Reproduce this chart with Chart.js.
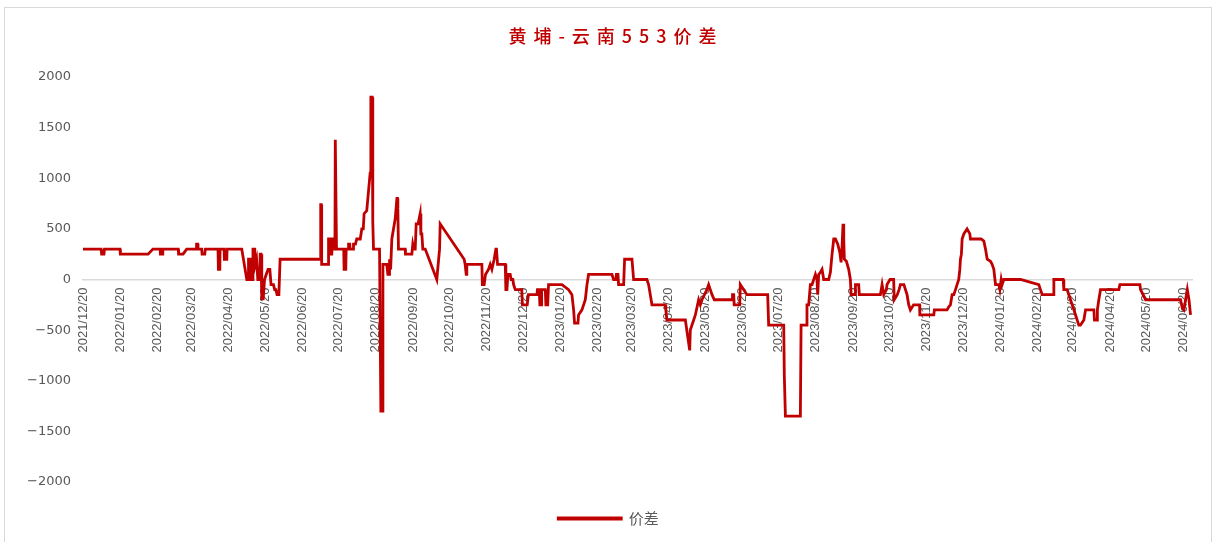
<!DOCTYPE html>
<html>
<head>
<meta charset="utf-8">
<script src="https://cdn.jsdelivr.net/npm/chart.js@4.4.1/dist/chart.umd.min.js"></script>
<style>
  html, body { margin: 0; padding: 0; background: #fff; }
  #frame { position: absolute; left: 4px; top: 7px; width: 1206px; height: 560px; border: 1px solid #d9d9d9; }
  #wrap { position: absolute; left: 0; top: 0; width: 1216px; height: 542px; }
</style>
</head>
<body>
<div id="frame"></div>
<div id="wrap"><canvas id="c"></canvas></div>
<script>
// 黄埔-云南553价差, daily spread
const chartTitle = '黄埔-云南553价差';
const seriesName = '价差';
const startDate = '2021/12/20';   // day 0 of dayOffsets

// days after startDate
const dayOffsets = [
  0, 15, 15.5, 17.4, 17.8, 30.7, 31, 54, 58, 64,
  64.2, 66, 66.2, 79, 79.3, 83, 86, 94, 94.2, 95.2,
  95.4, 98.5, 98.8, 101, 101.5, 112, 112.3, 113.5, 113.7, 117,
  117.3, 119.3, 119.5, 131.7, 135.9, 137, 137.3, 139, 139.5, 140.7,
  141, 142.5, 143, 144, 145, 146.5, 147, 147.7, 148.3, 149.5,
  150.6, 152, 153.5, 155, 156, 158, 159, 160, 161, 162.5,
  163.5, 196.7, 197.2, 197.6, 198, 203.4, 203.7, 205, 205.3, 206.4,
  206.7, 207.8, 208.1, 209, 209.3, 209.8, 210.3, 216.3, 216.6, 218,
  218.3, 220, 220.3, 221.3, 221.6, 224, 224.4, 226, 227.1, 230,
  231.3, 232.5, 233.2, 235.4, 238.2, 238.8, 239.9, 240.4, 241, 246,
  247.1, 248.5, 248.8, 252, 252.9, 254, 254.3, 255.2, 256.2, 259,
  260.4, 260.9, 261.2, 261.7, 267.3, 267.5, 272.8, 273.6, 274.5, 275.6,
  276.4, 278, 279.7, 280.3, 281.1, 281.9, 283.9, 293.5, 295.8, 296.3,
  316.2, 317, 317.9, 318.4, 330.9, 331.3, 332.8, 333.9, 336.4, 337.8,
  339.2, 341.1, 342.5, 343, 343.9, 350.3, 350.8, 351.7, 352.5, 354.4,
  355.2, 356.6, 357.2, 358.6, 364, 364.5, 368.5, 369.5, 376.6, 377,
  378.5, 379, 380, 380.5, 383.5, 384, 385.5, 386.2, 397.3, 402.8,
  405.6, 407, 407.8, 410.6, 411.1, 413.9, 416.7, 418.1, 419.4, 438.8,
  440.2, 442.1, 442.5, 443.8, 444.3, 448.5, 449.3, 455.4, 456.8, 467.8,
  469.2, 472, 483, 483.5, 484.4, 499.7, 501.5, 503.3, 503.8, 505.2,
  506.6, 508, 510.7, 512.1, 513.5, 517.6, 519, 520.4, 521.8, 523.7,
  538.4, 538.8, 539.8, 540.2, 544.8, 545.3, 550.8, 568, 568.8, 581.3,
  581.8, 582.7, 595.1, 595.7, 600.2, 600.6, 602, 603.4, 604.8, 606.2,
  607.6, 608.9, 609.5, 610.3, 611.7, 613.1, 614.5, 618.6, 620, 621.4,
  622.8, 624.2, 626.1, 627.8, 628.9, 629.7, 630.5, 631.1, 631.6, 633.3,
  635.2, 636.6, 637.2, 640.5, 640.8, 643.5, 644, 661.5, 662.9, 664.3,
  666.5, 667, 669.5, 672.5, 673, 675.5, 677, 678.1, 681, 683.6,
  685, 686.4, 689, 694, 694.2, 705.8, 706.3, 716.8, 718.2, 719.6,
  721, 722.4, 723.8, 725.1, 726.5, 727.4, 727.9, 728.7, 729.3, 730.7,
  733.4, 734.8, 735.7, 736.2, 745.1, 747.3, 748.7, 750.1, 752.8, 754.2,
  755.6, 757, 759.7, 760.6, 761.7, 762.5, 763.9, 777.7, 792.9, 794.3,
  795.7, 805, 805.4, 813.1, 813.7, 816.4, 817.8, 820.6, 823.4, 826.1,
  827.5, 830.3, 831.7, 838.6, 839.1, 841.3, 841.5, 842.7, 844.1, 859.3,
  860.2, 876.8, 877.3, 881.5, 910.5, 911.9, 913.3, 914.7, 916.1, 917.5, 918.8
];

const spreadValues = [
  300, 300, 250, 250, 300, 300, 250, 250, 300, 300,
  250, 250, 300, 300, 250, 250, 300, 300, 350, 350,
  300, 300, 250, 250, 300, 300, 100, 100, 300, 300,
  200, 200, 300, 300, 0, 0, 200, 200, 0, 0,
  300, 300, 150, 200, 0, 0, 250, 250, -190, -190,
  0, 50, 100, 100, -50, -50, -100, -100, -150, -150,
  200, 200, 740, 740, 150, 150, 400, 400, 250, 250,
  400, 400, 300, 300, 1380, 1380, 300, 300, 100, 100,
  300, 300, 350, 350, 300, 300, 350, 350, 400, 400,
  500, 500, 650, 680, 1050, 1800, 1800, 570, 300, 300,
  -1300, -1300, 150, 150, 50, 50, 200, 100, 400, 600,
  800, 800, 700, 300, 300, 250, 250, 350, 300, 300,
  550, 550, 650, 450, 450, 300, 300, 0, 300, 550,
  200, 150, 50, 150, 150, -50, -50, 50, 100, 150,
  100, 200, 300, 300, 150, 150, -100, -100, 50, 50,
  0, 0, -50, -100, -100, -250, -250, -150, -150, -100,
  -100, -250, -250, -100, -100, -250, -250, -50, -50, -100,
  -150, -300, -430, -430, -350, -300, -200, -50, 50, 50,
  0, 0, 50, 50, -50, -50, 200, 200, 0, 0,
  -50, -250, -250, -300, -400, -400, -550, -700, -500, -450,
  -400, -350, -200, -250, -200, -100, -50, -100, -150, -200,
  -200, -150, -150, -250, -250, -50, -150, -150, -450, -450,
  -950, -1350, -1350, -450, -450, -250, -250, -50, -50, 0,
  50, 0, -150, 50, 70, 100, 0, 0, 70, 250,
  400, 400, 350, 270, 170, 320, 550, 400, 200, 180,
  100, 0, -150, -150, -50, -50, -150, -150, -50, -150,
  -100, -50, 0, 0, -200, -150, -100, -50, -50, -150,
  -250, -300, -250, -250, -350, -350, -300, -300, -270, -250,
  -150, -150, -100, -50, 0, 100, 200, 250, 400, 450,
  500, 470, 450, 400, 400, 380, 300, 200, 180, 150,
  100, -50, -50, -100, 0, -50, 0, 0, -50, -100,
  -150, -150, 0, 0, -100, -100, -150, -250, -350, -450,
  -450, -400, -300, -300, -400, -400, -300, -200, -100, -100,
  -50, -50, -100, -200, -200, -280, -300, -200, -100, -200, -350
];

const tickLabels = [
  '2021/12/20', '2022/01/20', '2022/02/20', '2022/03/20', '2022/04/20', '2022/05/20',
  '2022/06/20', '2022/07/20', '2022/08/20', '2022/09/20', '2022/10/20', '2022/11/20',
  '2022/12/20', '2023/01/20', '2023/02/20', '2023/03/20', '2023/04/20', '2023/05/20',
  '2023/06/20', '2023/07/20', '2023/08/20', '2023/09/20', '2023/10/20', '2023/11/20',
  '2023/12/20', '2024/01/20', '2024/02/20', '2024/03/20', '2024/04/20', '2024/05/20',
  '2024/06/20'
];

const yMin = -2000, yMax = 2000, yStep = 500;

function dayOf(label) {
  const [y, m, d] = label.split('/').map(Number);
  const [y0, m0, d0] = startDate.split('/').map(Number);
  return Math.round((Date.UTC(y, m - 1, d) - Date.UTC(y0, m0 - 1, d0)) / 86400000);
}
const tickDays = tickLabels.map(dayOf);

const points = dayOffsets.map((d, i) => ({ x: d, y: spreadValues[i] }));

// title drawn by hand so the wide letter spacing can be kept
const spacedTitle = {
  id: 'spacedTitle',
  afterDraw(chart) {
    const ctx = chart.ctx;
    ctx.save();
    ctx.font = '500 18px "Noto Sans CJK SC"';
    ctx.fillStyle = '#C00000';
    ctx.letterSpacing = '7px';
    ctx.textAlign = 'center';
    ctx.textBaseline = 'middle';
    ctx.fillText(chartTitle, 616, 36);
    ctx.restore();
  }
};

new Chart(document.getElementById('c'), {
  type: 'line',
  data: {
    datasets: [{
      label: seriesName,
      data: points,
      borderColor: '#C00000',
      backgroundColor: '#C00000',
      borderWidth: 2.8,
      pointRadius: 0,
      tension: 0
    }]
  },
  options: {
    responsive: true,
    maintainAspectRatio: false,
    animation: false,
    layout: { padding: { top: 77, left: 25, right: 24, bottom: 6 } },
    scales: {
      x: {
        type: 'linear',
        position: { y: 0 },
        min: 0,
        max: 920,
        bounds: 'data',
        grid: { display: false, drawTicks: false },
        border: { color: '#d9d9d9', width: 1.5 },
        afterBuildTicks(scale) {
          scale.ticks = tickDays.map(v => ({ value: v }));
        },
        ticks: {
          autoSkip: false,
          minRotation: 90,
          maxRotation: 90,
          padding: 8,
          color: '#595959',
          font: { family: 'Liberation Sans', size: 13 },
          callback: (value) => tickLabels[tickDays.indexOf(value)]
        }
      },
      y: {
        min: yMin,
        max: yMax,
        grid: { display: false, drawTicks: false },
        border: { display: false },
        afterFit(scale) { scale.width = 58; },
        ticks: {
          stepSize: yStep,
          padding: 12,
          color: '#595959',
          font: { family: 'DejaVu Sans', size: 13 },
          callback: (v) => v < 0 ? '\u2212' + Math.abs(v) : String(v)
        }
      }
    },
    plugins: {
      title: { display: false },
      tooltip: { enabled: false },
      legend: {
        position: 'bottom',
        labels: {
          boxWidth: 63,
          boxHeight: 1,
          padding: 29,
          color: '#595959',
          font: { family: 'Noto Sans CJK SC', size: 15 }
        }
      }
    }
  },
  plugins: [spacedTitle]
});
</script>
</body>
</html>
